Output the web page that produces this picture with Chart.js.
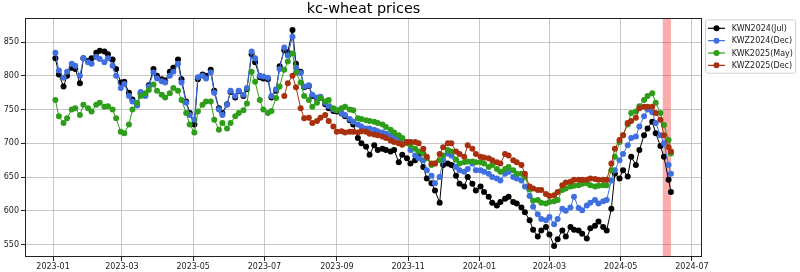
<!DOCTYPE html>
<html><head><meta charset="utf-8">
<script src="https://cdn.jsdelivr.net/npm/chart.js@4.4.1/dist/chart.umd.min.js"></script>
<style>html,body{margin:0;padding:0;background:#fff;}#wrap{width:800px;height:272px;}</style>
</head><body><div id="wrap"><canvas id="c" width="800" height="272"></canvas></div>
<script>
const chartTitle = 'kc-wheat prices';
const seriesNames = ['KWN2024(Jul)', 'KWZ2024(Dec)', 'KWK2025(May)', 'KWZ2025(Dec)'];
const tickLabels = ['2023-01','2023-03','2023-05','2023-07','2023-09','2023-11','2024-01','2024-03','2024-05','2024-07'];
const yTicks = [550, 600, 650, 700, 750, 800, 850];
const highlightSpan = ['2024-06-06', '2024-06-13'];

const dates = [
 '2023-01-03','2023-01-06','2023-01-10','2023-01-13','2023-01-17','2023-01-20','2023-01-24','2023-01-27','2023-01-31',
 '2023-02-03','2023-02-07','2023-02-10','2023-02-14','2023-02-17','2023-02-21','2023-02-24','2023-02-28',
 '2023-03-03','2023-03-07','2023-03-10','2023-03-14','2023-03-17','2023-03-21','2023-03-24','2023-03-28','2023-03-31',
 '2023-04-04','2023-04-07','2023-04-11','2023-04-14','2023-04-18','2023-04-21','2023-04-25','2023-04-28',
 '2023-05-02','2023-05-05','2023-05-09','2023-05-12','2023-05-16','2023-05-19','2023-05-23','2023-05-26','2023-05-30',
 '2023-06-02','2023-06-06','2023-06-09','2023-06-13','2023-06-16','2023-06-20','2023-06-23','2023-06-27','2023-06-30',
 '2023-07-04','2023-07-07','2023-07-11','2023-07-14','2023-07-18','2023-07-21','2023-07-25','2023-07-28',
 '2023-08-01','2023-08-04','2023-08-08','2023-08-11','2023-08-15','2023-08-18','2023-08-22','2023-08-25','2023-08-29',
 '2023-09-01','2023-09-05','2023-09-08','2023-09-12','2023-09-15','2023-09-19','2023-09-22','2023-09-26','2023-09-29',
 '2023-10-03','2023-10-06','2023-10-10','2023-10-13','2023-10-17','2023-10-20','2023-10-24','2023-10-27','2023-10-31',
 '2023-11-03','2023-11-07','2023-11-10','2023-11-14','2023-11-17','2023-11-21','2023-11-24','2023-11-28',
 '2023-12-01','2023-12-05','2023-12-08','2023-12-12','2023-12-15','2023-12-19','2023-12-22','2023-12-26','2023-12-29',
 '2024-01-02','2024-01-05','2024-01-09','2024-01-12','2024-01-16','2024-01-19','2024-01-23','2024-01-26','2024-01-30',
 '2024-02-02','2024-02-06','2024-02-09','2024-02-13','2024-02-16','2024-02-20','2024-02-23','2024-02-27',
 '2024-03-01','2024-03-05','2024-03-08','2024-03-12','2024-03-15','2024-03-19','2024-03-22','2024-03-26','2024-03-29',
 '2024-04-02','2024-04-05','2024-04-09','2024-04-12','2024-04-16','2024-04-19','2024-04-23','2024-04-26','2024-04-30',
 '2024-05-03','2024-05-07','2024-05-10','2024-05-14','2024-05-17','2024-05-21','2024-05-24','2024-05-28','2024-05-31',
 '2024-06-04','2024-06-07','2024-06-11','2024-06-13'
];

const kwn2024 = [
 826,802,784,800,812,810,789,826,822,
 826,834,837,836,832,824,810,790,
 791,775,765,758,774,772,786,810,800,
 795,793,806,812,824,795,762,745,
 728,795,802,800,809,778,752,745,758,
 776,768,777,770,780,832,820,798,796,
 795,768,778,814,838,835,868,818,
 806,783,785,770,766,767,758,752,748,
 747,744,740,734,728,708,700,695,683,
 697,690,692,690,688,690,672,683,678,
 670,675,680,665,648,641,630,612,
 668,670,668,652,640,636,650,640,630,
 636,628,621,612,608,613,618,621,613,
 611,605,598,586,572,562,571,576,
 565,548,558,571,562,576,572,571,566,
 559,574,578,584,576,571,603,655,648,
 660,651,680,668,690,712,722,732,715,
 696,680,646,628
];
const kwz2024 = [
 834,808,797,806,818,815,800,826,820,
 818,828,825,820,826,815,800,782,
 788,770,762,756,776,770,784,805,796,
 792,790,800,806,818,790,760,742,
 735,798,800,796,805,775,750,742,757,
 778,770,778,772,782,836,826,800,799,
 797,770,780,810,842,830,858,812,
 804,784,786,772,768,769,760,755,750,
 749,745,742,736,732,728,725,722,722,
 720,718,716,714,712,710,708,706,702,
 690,682,678,675,660,652,641,650,
 675,685,682,665,660,658,662,670,660,
 660,658,655,650,648,645,655,658,650,
 648,645,636,622,606,595,588,586,
 591,580,588,603,600,605,621,604,601,
 608,612,616,611,614,616,645,660,675,
 684,697,708,710,725,740,750,746,730,
 712,700,668,655
];
const kwk2025 = [
 764,740,730,737,750,752,742,757,752,
 747,757,760,754,755,750,737,717,
 715,728,750,760,770,774,779,787,778,
 772,768,774,782,778,764,745,728,
 716,747,757,762,762,735,720,730,722,
 730,740,745,749,759,806,791,764,750,
 745,748,767,784,809,821,833,805,
 790,770,764,754,760,767,762,764,752,
 749,752,754,750,749,737,736,734,733,
 732,730,728,724,720,716,712,708,700,
 697,692,688,685,678,668,670,675,
 682,690,688,676,670,672,673,673,672,
 672,670,665,668,662,658,662,665,660,
 655,655,650,632,615,616,612,611,
 613,614,616,631,633,636,637,638,640,
 641,638,636,637,638,638,660,680,702,
 712,728,745,747,755,764,770,774,760,
 745,727,705,685
];
const kwz2025 = [
 null,null,null,null,null,null,null,null,null,
 null,null,null,null,null,null,null,null,
 null,null,null,null,null,null,null,null,null,
 null,null,null,null,null,null,null,null,
 null,null,null,null,null,null,null,null,null,
 null,null,null,null,null,null,null,null,null,
 null,null,null,null,770,789,800,783,
 752,737,738,730,733,738,742,733,725,
 717,718,716,717,717,716,718,717,714,
 713,712,710,708,704,702,700,698,702,
 702,702,700,692,680,670,670,684,
 694,700,700,688,684,680,697,692,684,
 680,679,678,675,672,670,684,682,675,
 672,668,655,636,633,631,631,625,
 622,623,628,638,642,643,646,646,646,
 646,648,647,646,646,646,670,692,705,
 712,730,733,738,752,754,754,754,745,
 735,712,694,688
];

const colors = ['#000000', '#3f6fe0', '#2e9e1a', '#a8300c'];
const FONT = "'DejaVu Sans', 'Liberation Sans', sans-serif";

const X0 = Date.UTC(2023, 0, 1);
function dayOf(s) {
  const p = s.split('-').map(Number);
  return (Date.UTC(p[0], p[1] - 1, p[2] || 1) - X0) / 86400000;
}
function toPoints(arr) {
  const out = [];
  for (let i = 0; i < dates.length && i < arr.length; i++) {
    if (arr[i] != null) out.push({ x: dayOf(dates[i]), y: arr[i] });
  }
  return out;
}
const tickDays = tickLabels.map(t => dayOf(t + '-01'));
const allSeries = [kwn2024, kwz2024, kwk2025, kwz2025];

const datasets = allSeries.map((arr, i) => ({
  label: seriesNames[i],
  data: toPoints(arr),
  borderColor: colors[i],
  backgroundColor: colors[i],
  pointBackgroundColor: colors[i],
  pointBorderWidth: 0,
  pointRadius: 3,
  pointHoverRadius: 3,
  borderWidth: 1,
  tension: 0,
  order: 4 - i
}));

const decor = {
  id: 'decor',
  beforeDatasetsDraw(chart) {
    const { ctx, chartArea: a, scales: { x } } = chart;
    const x1 = x.getPixelForValue(dayOf(highlightSpan[0]));
    const x2 = x.getPixelForValue(dayOf(highlightSpan[1]));
    ctx.save();
    ctx.fillStyle = 'rgba(240,60,60,0.42)';
    ctx.fillRect(x1, a.top, x2 - x1, a.bottom - a.top);
    ctx.restore();
  },
  afterDraw(chart) {
    const { ctx, chartArea: a } = chart;
    ctx.save();
    // frame
    ctx.strokeStyle = '#222';
    ctx.lineWidth = 1;
    ctx.strokeRect(Math.round(a.left) + 0.5, Math.round(a.top) + 0.5, Math.round(a.right - a.left) - 1, Math.round(a.bottom - a.top) - 1);
    // title
    ctx.fillStyle = '#000';
    ctx.font = '14.4px ' + FONT;
    ctx.textAlign = 'center';
    ctx.textBaseline = 'alphabetic';
    ctx.fillText(chartTitle, (a.left + a.right) / 2, 12.7);
    // legend
    const bx = 705, by = 19.3, bw = 90, bh = 53.4;
    ctx.fillStyle = 'rgba(255,255,255,0.85)';
    ctx.strokeStyle = '#d0d0d0';
    ctx.lineWidth = 1;
    ctx.beginPath();
    if (ctx.roundRect) ctx.roundRect(bx + 0.5, by + 0.5, bw, bh, 2); else ctx.rect(bx + 0.5, by + 0.5, bw, bh);
    ctx.fill(); ctx.stroke();
    ctx.font = '8px ' + FONT;
    ctx.textAlign = 'left';
    ctx.textBaseline = 'middle';
    seriesNames.forEach((name, i) => {
      const yy = 28.3 + i * 12.35;
      ctx.strokeStyle = colors[i];
      ctx.lineWidth = 1.2;
      ctx.beginPath(); ctx.moveTo(708, yy); ctx.lineTo(725, yy); ctx.stroke();
      ctx.fillStyle = colors[i];
      ctx.beginPath(); ctx.arc(716.5, yy, 3, 0, Math.PI * 2); ctx.fill();
      ctx.fillStyle = '#222';
      ctx.fillText(name, 731.7, yy + 0.5);
    });
    ctx.restore();
  }
};

new Chart(document.getElementById('c'), {
  type: 'line',
  data: { datasets },
  options: {
    responsive: false,
    devicePixelRatio: 1,
    animation: false,
    layout: { padding: { left: 0, top: 18, right: 98, bottom: 0 } },
    plugins: { legend: { display: false }, title: { display: false }, tooltip: { enabled: false } },
    events: [],
    scales: {
      x: {
        type: 'linear',
        min: -24,
        max: 555.6,
        afterBuildTicks: s => { s.ticks = tickDays.map(v => ({ value: v })); },
        afterFit: s => { s.height = 15; },
        ticks: {
          callback: (v, i) => tickLabels[i],
          font: { family: FONT, size: 8 },
          color: '#222',
          maxRotation: 0,
          autoSkip: false,
          padding: 1
        },
        grid: { color: '#b8b8b8', lineWidth: 0.8, drawTicks: true, tickLength: 4, tickColor: '#222', tickWidth: 1 },
        border: { display: false }
      },
      y: {
        type: 'linear',
        min: 531.6,
        max: 885.6,
        afterBuildTicks: s => { s.ticks = yTicks.map(v => ({ value: v })); },
        afterFit: s => { s.width = 25; },
        ticks: {
          callback: v => String(v),
          font: { family: FONT, size: 8 },
          color: '#222',
          padding: 2
        },
        grid: { color: '#b8b8b8', lineWidth: 0.8, drawTicks: true, tickLength: 4, tickColor: '#222', tickWidth: 1 },
        border: { display: false }
      }
    }
  },
  plugins: [decor]
});
</script>
</body></html>
